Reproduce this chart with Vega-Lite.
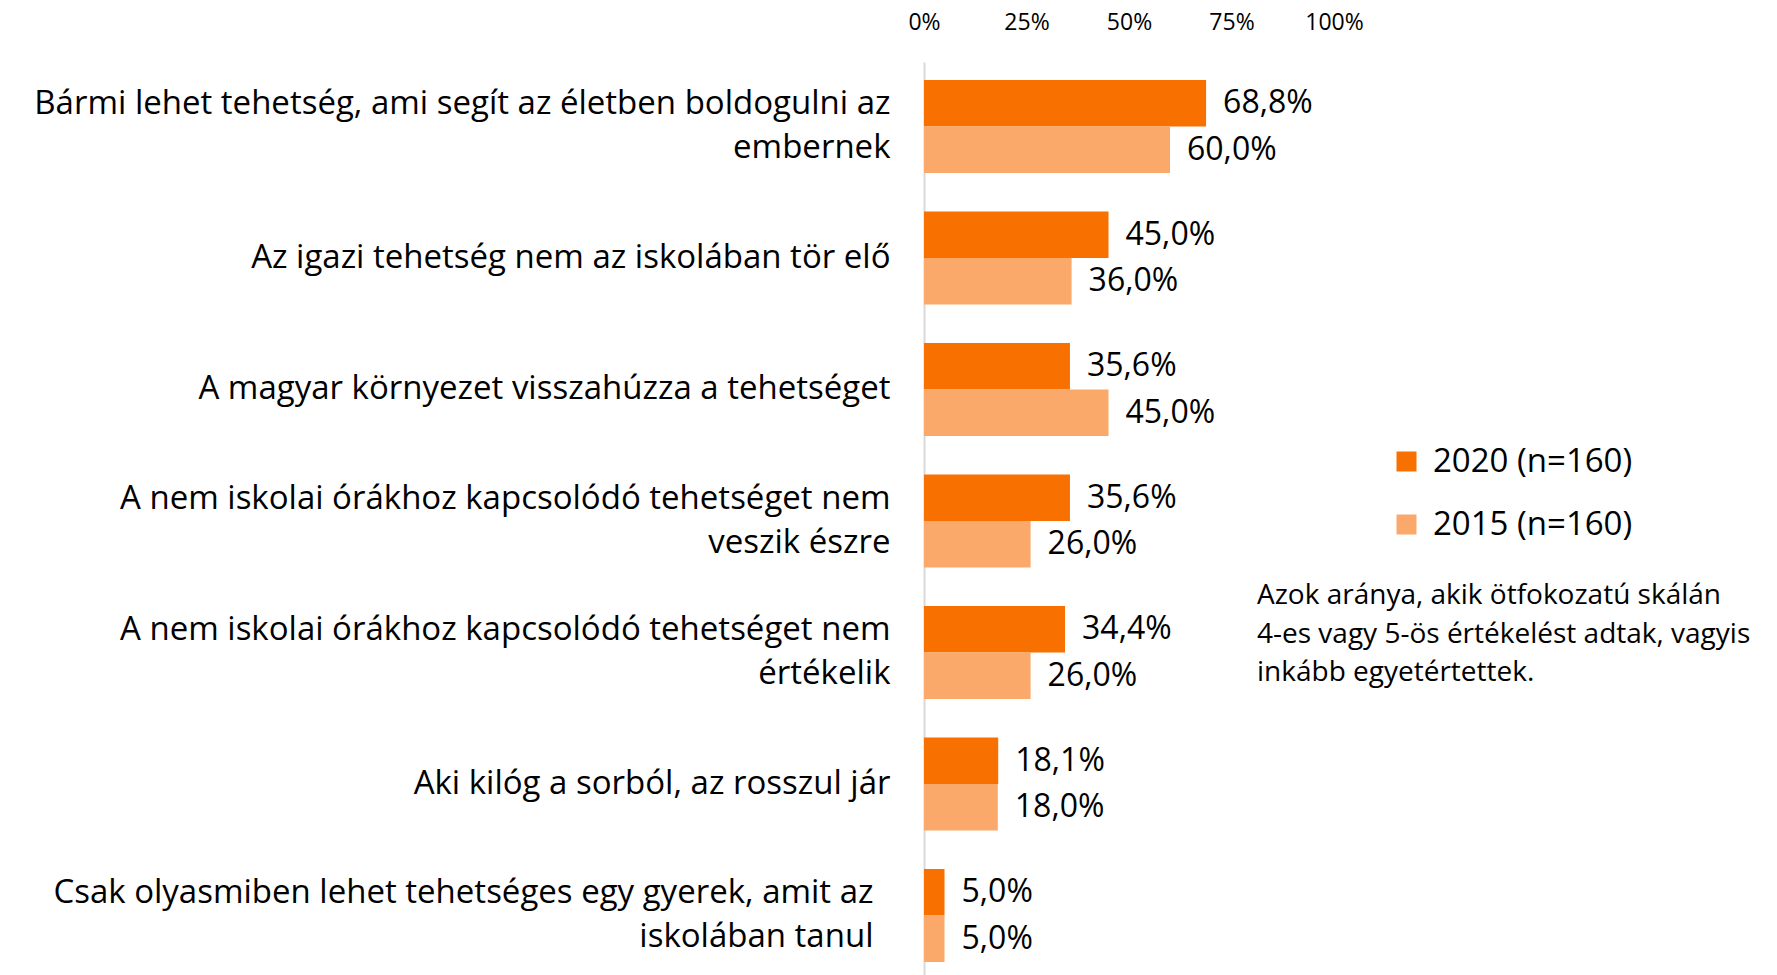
{
  "$schema": "https://vega.github.io/schema/vega-lite/v6.json",
  "width": 410,
  "height": 913,
  "autosize": {"type": "none"},
  "padding": {"left": 924, "top": 62, "right": 443, "bottom": 0},
  "background": "white",
  "config": {
    "locale": {"number": {"decimal": ",", "thousands": " ", "grouping": [3], "currency": ["", " Ft"]}},
    "font": "Open Sans",
    "view": {"stroke": null},
    "axis": {"grid": false}
  },
  "data": {
    "values": [
      {"statement": "Bármi lehet tehetség, ami segít az életben boldogulni az|embernek", "year": "2020 (n=160)", "value": 0.688},
      {"statement": "Bármi lehet tehetség, ami segít az életben boldogulni az|embernek", "year": "2015 (n=160)", "value": 0.600},
      {"statement": "Az igazi tehetség nem az iskolában tör elő", "year": "2020 (n=160)", "value": 0.450},
      {"statement": "Az igazi tehetség nem az iskolában tör elő", "year": "2015 (n=160)", "value": 0.360},
      {"statement": "A magyar környezet visszahúzza a tehetséget", "year": "2020 (n=160)", "value": 0.356},
      {"statement": "A magyar környezet visszahúzza a tehetséget", "year": "2015 (n=160)", "value": 0.450},
      {"statement": "A nem iskolai órákhoz kapcsolódó tehetséget nem|veszik észre", "year": "2020 (n=160)", "value": 0.356},
      {"statement": "A nem iskolai órákhoz kapcsolódó tehetséget nem|veszik észre", "year": "2015 (n=160)", "value": 0.260},
      {"statement": "A nem iskolai órákhoz kapcsolódó tehetséget nem|értékelik", "year": "2020 (n=160)", "value": 0.344},
      {"statement": "A nem iskolai órákhoz kapcsolódó tehetséget nem|értékelik", "year": "2015 (n=160)", "value": 0.260},
      {"statement": "Aki kilóg a sorból, az rosszul jár", "year": "2020 (n=160)", "value": 0.181},
      {"statement": "Aki kilóg a sorból, az rosszul jár", "year": "2015 (n=160)", "value": 0.180},
      {"statement": "Csak olyasmiben lehet tehetséges egy gyerek, amit az|iskolában tanul", "year": "2020 (n=160)", "value": 0.050},
      {"statement": "Csak olyasmiben lehet tehetséges egy gyerek, amit az|iskolában tanul", "year": "2015 (n=160)", "value": 0.050}
    ]
  },
  "encoding": {
    "y": {
      "field": "statement",
      "type": "nominal",
      "sort": null,
      "scale": {"paddingInner": 0.293, "paddingOuter": 0.118, "align": 0.58},
      "axis": {
        "title": null,
        "ticks": false,
        "tickSize": 0,
        "domain": true,
        "domainColor": "#d9d9d9",
        "domainWidth": 2,
        "labelPadding": {"condition": {"test": "indexof(datum.label, 'Csak') == 0", "value": 51}, "value": 34},
        "labelOffset": {"condition": {"test": "indexof(datum.label, '|') >= 0", "value": -22}, "value": 0},
        "labelFontSize": 33,
        "labelColor": "#000000",
        "labelLimit": 1200,
        "labelLineHeight": 44,
        "labelExpr": "split(datum.label, '|')"
      }
    },
    "yOffset": {
      "field": "year",
      "type": "nominal",
      "sort": ["2020 (n=160)", "2015 (n=160)"],
      "scale": {"paddingInner": 0, "paddingOuter": 0}
    },
    "x": {
      "field": "value",
      "type": "quantitative",
      "scale": {"domain": [0, 1]},
      "axis": {
        "orient": "top",
        "title": null,
        "values": [0, 0.25, 0.5, 0.75, 1],
        "format": ".0%",
        "domain": false,
        "ticks": false,
        "tickSize": 0,
        "labelPadding": 40,
        "labelBaseline": "middle",
        "labelFontSize": 23,
        "labelColor": "#000000",
        "labelFlush": false
      }
    }
  },
  "layer": [
    {
      "mark": {"type": "bar"},
      "encoding": {
        "color": {
          "field": "year",
          "type": "nominal",
          "scale": {"domain": ["2020 (n=160)", "2015 (n=160)"], "range": ["#f87000", "#faa96b"]},
          "legend": {
            "orient": "none",
            "legendX": 333,
            "legendY": 383,
            "padding": 0,
            "title": ["Azok aránya, akik ötfokozatú skálán", "4-es vagy 5-ös értékelést adtak, vagyis", "inkább egyetértettek."],
            "titleOrient": "bottom",
            "titleAnchor": "start",
            "titleAlign": "left",
            "titleFontSize": 28,
            "titleFontWeight": "normal",
            "titleColor": "#000000",
            "titleLineHeight": 38.5,
            "titlePadding": 40,
            "titleLimit": 1000,
            "symbolType": "square",
            "symbolSize": 400,
            "symbolStrokeWidth": 0,
            "symbolOpacity": 1,
            "symbolOffset": 133,
            "labelOffset": 10,
            "labelFontSize": 33,
            "labelColor": "#000000",
            "labelLimit": 1000,
            "rowPadding": 29
          }
        }
      }
    },
    {
      "mark": {"type": "text", "align": "left", "baseline": "middle", "dx": 17, "fontSize": 32, "color": "#000000"},
      "encoding": {
        "text": {"field": "value", "type": "quantitative", "format": ".1%"}
      }
    }
  ]
}
